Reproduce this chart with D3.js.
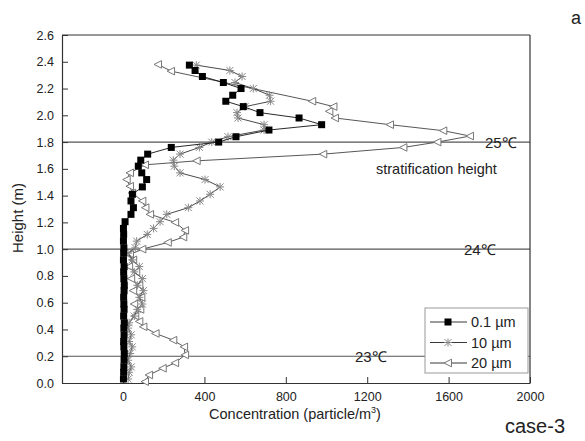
<!DOCTYPE html>
<html>
<head>
<meta charset="utf-8">
<script src="https://cdn.jsdelivr.net/npm/d3@7"></script>
<style>
body { margin: 0; background: #fff; }
text { font-family: "Liberation Sans", Arial, sans-serif; fill: #222; }
</style>
</head>
<body>
<svg id="chart" width="585" height="441"></svg>
<script>
// measuring heights (m), bottom to top, shared by 0.1 and 10 um
const heights = [0.03, 0.08, 0.12, 0.17, 0.22, 0.27, 0.31, 0.36, 0.41, 0.45,
    0.50, 0.55, 0.59, 0.64, 0.69, 0.73, 0.78, 0.83, 0.87, 0.92,
    0.97, 1.01, 1.06, 1.11, 1.155, 1.205, 1.26, 1.31, 1.36, 1.41,
    1.465, 1.52, 1.57, 1.62, 1.665, 1.71, 1.76, 1.80, 1.84, 1.89,
    1.93, 1.98, 2.02, 2.065, 2.105, 2.15, 2.20, 2.245, 2.29, 2.335, 2.375];

const conc01 = [2, 3, 4, 5, 6, 4, 3, 5, 4, 6,
    3, 5, 4, 3, 5, 6, 4, 3, 5, 2,
    3, 4, 2, 3, 2, 10, 39, 51, 39, 46,
    95, 116, 92, 75, 87, 121, 237, 470, 555, 717,
    976, 865, 673, 591, 505, 539, 580, 493, 390, 354, 326];

const conc10 = [25, 30, 40, 25, 35, 45, 30, 40, 25, 30,
    55, 70, 95, 80, 100, 70, 95, 55, 80, 45,
    25, 60, 67, 119, 150, 182, 215, 321, 378, 428,
    477, 403, 280, 252, 247, 280, 375, 436, 516, 693,
    693, 565, 560, 600, 725, 720, 640, 550, 585, 525, 360];

// 20 um has its own heights
const heights20 = [0.01, 0.06, 0.11, 0.15, 0.21, 0.27, 0.32, 0.37, 0.42, 0.46,
    0.50, 0.55, 0.59, 0.64, 0.69, 0.73, 0.78, 0.83, 0.87, 0.92,
    0.96, 1.00, 1.05, 1.09, 1.14, 1.20, 1.26, 1.31, 1.36, 1.42,
    1.47, 1.52, 1.57, 1.63, 1.66, 1.71, 1.76, 1.80, 1.845, 1.885,
    1.93, 1.98, 2.03, 2.065, 2.105, 2.33, 2.38];
const conc20 = [108, 128, 195, 256, 305, 300, 247, 160, 100, 80,
    60, 85, 55, 90, 50, 80, 40, 65, 30, 50,
    34, 95, 220, 296, 305, 256, 133, 110, 95, 45,
    34, 18, 34, 108, 362, 984, 1378, 1545, 1705, 1574,
    1312, 1042, 1014, 1034, 930, 236, 172];

const xTicks = [0, 400, 800, 1200, 1600, 2000];
const yTicks = [0, 0.2, 0.4, 0.6, 0.8, 1.0, 1.2, 1.4, 1.6, 1.8, 2.0, 2.2, 2.4, 2.6];
const refLines = [
    {h: 1.8, label: '25\u2103'},
    {h: 1.0, label: '24\u2103'},
    {h: 0.2, label: '23\u2103'}
];
const labelPos = [485, 464, 355];
const seriesNames = ['0.1 \u00b5m', '10 \u00b5m', '20 \u00b5m'];

const svg = d3.select('#chart');
const mLeft = 62, mTop = 35, mRight = 530, mBottom = 383;

const x = d3.scaleLinear().domain([-300, 2000]).range([mLeft, mRight]);
const y = d3.scaleLinear().domain([0, 2.6]).range([mBottom, mTop]);

// reference lines
svg.append('g').selectAll('line')
    .data(refLines).enter()
    .append('line')
    .attr('x1', mLeft).attr('x2', mRight)
    .attr('y1', d => y(d.h)).attr('y2', d => y(d.h))
    .attr('stroke', '#555').attr('stroke-width', 1.2);

// axes
let yAxis = d3.axisLeft(y).tickValues(yTicks).tickFormat(d3.format('.1f'))
    .tickSizeInner(-6).tickSizeOuter(0).tickPadding(8);
let gy = svg.append('g').attr('transform', 'translate(' + mLeft + ',0)').call(yAxis);
let xAxis = d3.axisBottom(x).tickValues(xTicks).tickFormat(d3.format('d'))
    .tickSizeInner(-6).tickSizeOuter(0).tickPadding(9);
let gx = svg.append('g').attr('transform', 'translate(0,' + mBottom + ')').call(xAxis);
[gx, gy].forEach(g => {
    g.select('.domain').attr('stroke', '#333').attr('stroke-width', 1.2);
    g.selectAll('.tick line').attr('stroke', '#333');
    g.selectAll('text').style('font-size', '12.5px').attr('fill', '#222')
        .style('font-family', '"Liberation Sans", Arial, sans-serif');
});
// frame
svg.append('line').attr('x1', mLeft).attr('x2', mRight).attr('y1', mTop).attr('y2', mTop)
    .attr('stroke', '#333').attr('stroke-width', 1.2);
svg.append('line').attr('x1', mRight).attr('x2', mRight).attr('y1', mTop).attr('y2', mBottom)
    .attr('stroke', '#333').attr('stroke-width', 1.2);

// markers
function square(g) {
    g.append('rect').attr('x', -3.5).attr('y', -3.5).attr('width', 7).attr('height', 7)
        .attr('fill', '#000');
}
function star(g) {
    g.append('path').attr('d', 'M-3.5,-3.5L3.5,3.5M-3.5,3.5L3.5,-3.5M0,-4L0,4M-4,0L4,0')
        .attr('stroke', '#888').attr('stroke-width', 1).attr('fill', 'none');
}
function tri(g) {
    g.append('path').attr('d', 'M-4,0L3.5,-3.8L3.5,3.8Z')
        .attr('stroke', '#777').attr('stroke-width', 1).attr('fill', '#fff');
}

const series = [
    {h: heights20, v: conc20, mark: tri, col: '#444'},
    {h: heights, v: conc10, mark: star, col: '#333'},
    {h: heights, v: conc01, mark: square, col: '#111'}
];

let line = d3.line().x(d => x(d[1])).y(d => y(d[0]));
series.forEach(s => {
    let pts = s.h.map((h, i) => [h, s.v[i]]);
    svg.append('path').datum(pts).attr('d', line)
        .attr('fill', 'none').attr('stroke', s.col).attr('stroke-width', 0.9);
    svg.append('g').selectAll('g')
        .data(pts).enter()
        .append('g')
        .attr('transform', d => 'translate(' + x(d[1]) + ',' + y(d[0]) + ')')
        .each(function () { s.mark(d3.select(this)); });
});

// temperature labels
svg.append('g').selectAll('text')
    .data(refLines).enter()
    .append('text')
    .attr('x', (d, i) => labelPos[i])
    .attr('y', d => y(d.h) + 6)
    .style('font-size', '15px')
    .text(d => d.label);
svg.append('text').attr('x', 376).attr('y', 174).style('font-size', '14.5px')
    .text('stratification height');

// legend
let legend = svg.append('g').attr('transform', 'translate(425,308)');
legend.append('rect').attr('width', 103).attr('height', 65)
    .attr('fill', '#fff').attr('stroke', '#999');
const legMarks = [square, star, tri];
seriesNames.forEach((name, i) => {
    let ly = 14 + i * 20.5;
    legend.append('line').attr('x1', 5).attr('x2', 42).attr('y1', ly).attr('y2', ly)
        .attr('stroke', '#222').attr('stroke-width', 0.9);
    let m = legend.append('g').attr('transform', 'translate(23,' + ly + ')');
    legMarks[i](m);
    legend.append('text').attr('x', 46).attr('y', ly + 5).style('font-size', '14.5px').text(name);
});

// axis titles
svg.append('text').attr('transform', 'translate(23,218) rotate(-90)')
    .attr('text-anchor', 'middle').style('font-size', '15px').text('Height (m)');
let xt = svg.append('text').attr('x', 295).attr('y', 419)
    .attr('text-anchor', 'middle').style('font-size', '14.5px');
xt.append('tspan').text('Concentration (particle/m');
xt.append('tspan').attr('dy', -6).style('font-size', '9px').text('3');
xt.append('tspan').attr('dy', 6).text(')');

svg.append('text').attr('x', 505).attr('y', 433).style('font-size', '20px').text('case-3');
svg.append('text').attr('x', 571).attr('y', 24).style('font-size', '18px').text('a');
</script>
</body>
</html>
